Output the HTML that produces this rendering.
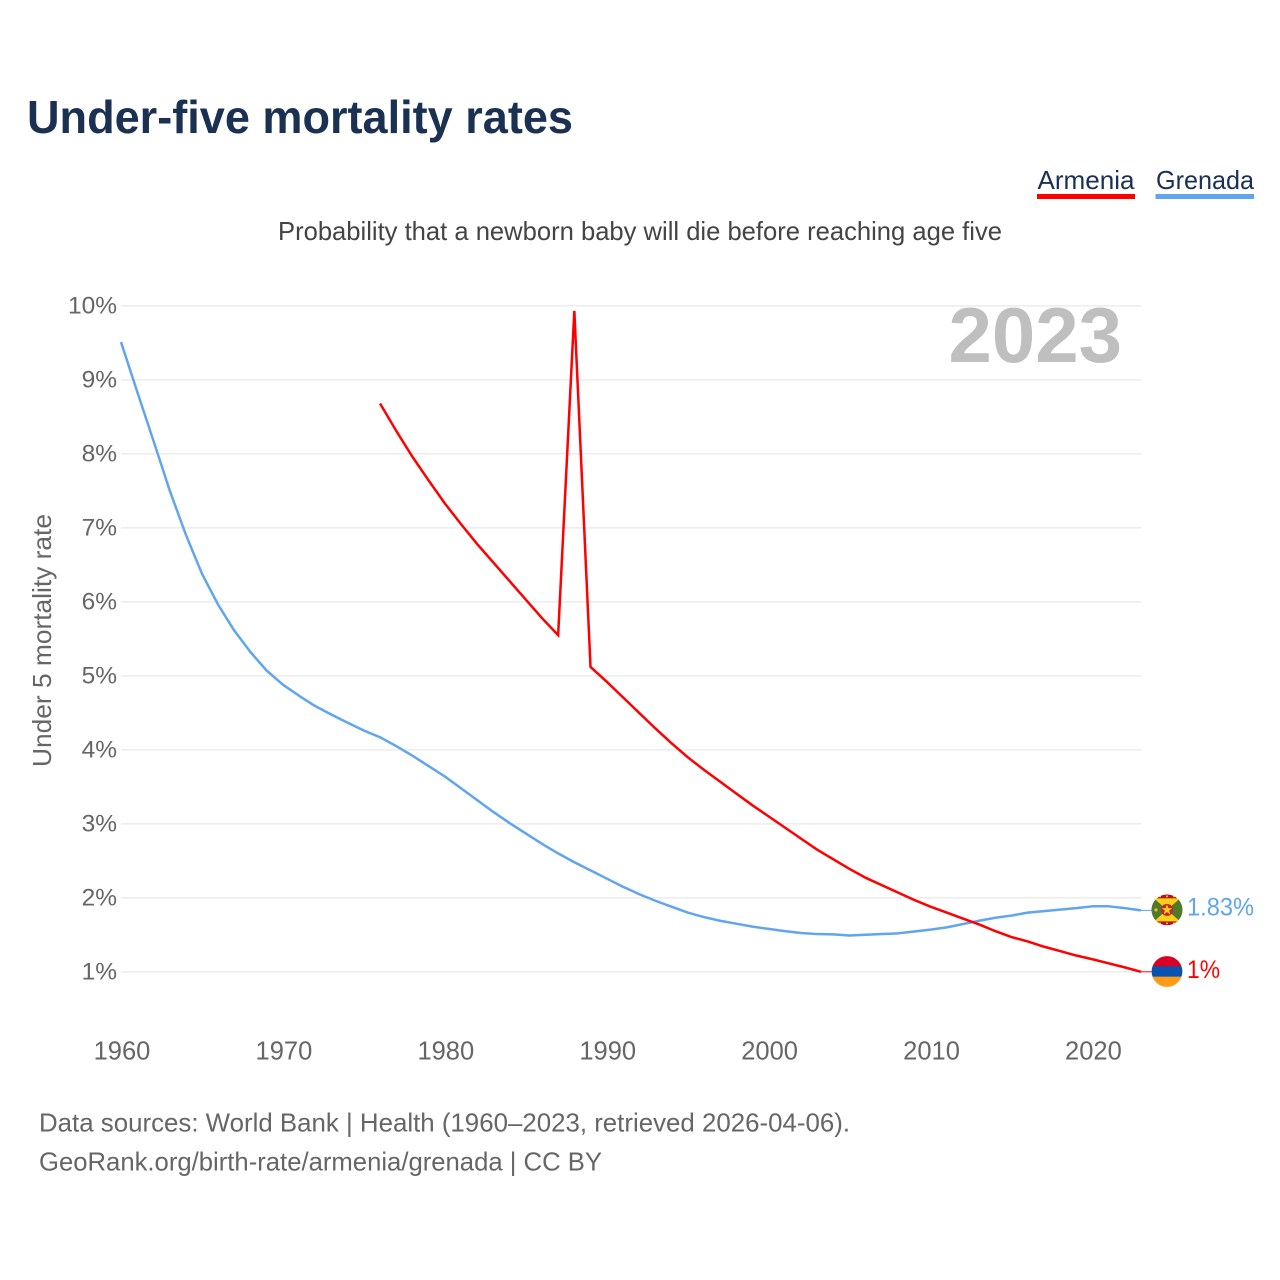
<!DOCTYPE html>
<html lang="en">
<head>
<meta charset="utf-8">
<title>Under-five mortality rates</title>
<style>
html,body{margin:0;padding:0;background:#fff;}
svg{display:block;font-family:"Liberation Sans",sans-serif;}
</style>
</head>
<body>
<svg id="chart" xmlns="http://www.w3.org/2000/svg" width="1280" height="1280" viewBox="0 0 1280 1280">
  <defs>
    <clipPath id="flag-clip"><circle cx="0" cy="0" r="15.4"></circle></clipPath>
  </defs>
  <rect x="0" y="0" width="1280" height="1280" fill="#ffffff"></rect>

  <text x="27" y="133" font-size="46" font-weight="700" fill="#1a3152" textLength="546" lengthAdjust="spacingAndGlyphs">Under-five mortality rates</text>

  <g>
    <g>
      <text x="1037.5" y="189" font-size="26" fill="#1a3152" textLength="97" lengthAdjust="spacingAndGlyphs">Armenia</text>
      <rect x="1037" y="194" width="98" height="5" fill="#ff0000"></rect>
    </g>
    <g>
      <text x="1156" y="189" font-size="26" fill="#1a3152" textLength="98" lengthAdjust="spacingAndGlyphs">Grenada</text>
      <rect x="1155.5" y="194" width="98.5" height="5" fill="#60a5ee"></rect>
    </g>
  </g>

  <text x="278" y="240" font-size="26" fill="#444444" textLength="724" lengthAdjust="spacingAndGlyphs">Probability that a newborn baby will die before reaching age five</text>

  <g id="grid"></g>
  <g id="y-ticks"></g>
  <g id="x-ticks"></g>

  <text transform="translate(51,767) rotate(-90)" x="0" y="0" font-size="26" fill="#666666" textLength="253" lengthAdjust="spacingAndGlyphs">Under 5 mortality rate</text>

  <text x="1122" y="362" font-size="78" font-weight="700" fill="#bfbfbf" text-anchor="end">2023</text>

  <g id="series"></g>

  <g id="flag-grenada">
    <g clip-path="url(#flag-clip)">
      <rect x="-16" y="-16" width="32" height="32" fill="#b5122b"></rect>
      <polygon points="-16,-11.5 16,-11.5 16,11.5 -16,11.5" fill="#4f7a2a"></polygon>
      <polygon points="-13,-11.5 13,-11.5 0,0" fill="#fcd116"></polygon>
      <polygon points="-13,11.5 13,11.5 0,0" fill="#fcd116"></polygon>
      <circle cx="0" cy="0" r="6" fill="#c8202c"></circle>
      <polygon points="0,-5.5 1.4,-1.7 5.2,-1.7 2.2,0.7 3.3,4.5 0,2.2 -3.3,4.5 -2.2,0.7 -5.2,-1.7 -1.4,-1.7" fill="#fcd116"></polygon>
      <circle cx="-11" cy="0" r="1.6" fill="#e6c020"></circle>
      <circle cx="-7" cy="-13.5" r="1" fill="#fcd116"></circle>
      <circle cx="0" cy="-13.5" r="1" fill="#fcd116"></circle>
      <circle cx="7" cy="-13.5" r="1" fill="#fcd116"></circle>
      <circle cx="-7" cy="13.5" r="1" fill="#fcd116"></circle>
      <circle cx="0" cy="13.5" r="1" fill="#fcd116"></circle>
      <circle cx="7" cy="13.5" r="1" fill="#fcd116"></circle>
    </g>
  </g>
  <g id="flag-armenia">
    <g clip-path="url(#flag-clip)">
      <rect x="-16" y="-16" width="32" height="11" fill="#d90026"></rect>
      <rect x="-16" y="-5.2" width="32" height="10.6" fill="#0a52b0"></rect>
      <rect x="-16" y="5.2" width="32" height="11" fill="#ff9a14"></rect>
    </g>
  </g>

  <text x="39" y="1131.3" font-size="26" fill="#666666" textLength="811" lengthAdjust="spacingAndGlyphs">Data sources: World Bank | Health (1960–2023, retrieved 2026-04-06).</text>
  <text x="39" y="1170.3" font-size="26" fill="#666666" textLength="563" lengthAdjust="spacingAndGlyphs">GeoRank.org/birth-rate/armenia/grenada | CC BY</text>
</svg>

<script>
const yTickValues = [1, 2, 3, 4, 5, 6, 7, 8, 9, 10];
const xTickYears = [1960, 1970, 1980, 1990, 2000, 2010, 2020];
const grenadaStartYear = 1960;
const grenadaValues = [
  9.51, 8.84, 8.18, 7.51, 6.91, 6.38, 5.96, 5.61, 5.32, 5.07,
  4.88, 4.73, 4.59, 4.475, 4.365, 4.26, 4.17, 4.05, 3.92, 3.78,
  3.64, 3.48, 3.32, 3.16, 3.01, 2.87, 2.73, 2.60, 2.48, 2.37,
  2.26, 2.15, 2.05, 1.96, 1.88, 1.80, 1.74, 1.69, 1.65, 1.61,
  1.58, 1.55, 1.525, 1.51, 1.505, 1.49, 1.50, 1.51, 1.52, 1.545,
  1.57, 1.60, 1.645, 1.69, 1.73, 1.76, 1.80, 1.82, 1.84, 1.86,
  1.885, 1.885, 1.86, 1.83
];
const armeniaStartYear = 1976;
const armeniaValues = [
  8.68, 8.31, 7.96, 7.64, 7.33, 7.05, 6.78, 6.53, 6.28, 6.03,
  5.78, 5.55, 9.93, 5.12, 4.92, 4.71, 4.50, 4.29, 4.09, 3.90,
  3.73, 3.57, 3.41, 3.25, 3.10, 2.95, 2.80, 2.65, 2.52, 2.39,
  2.27, 2.17, 2.07, 1.97, 1.88, 1.80, 1.72, 1.64, 1.55, 1.47,
  1.41, 1.34, 1.28, 1.22, 1.17, 1.115, 1.06, 1.00
];
const grenadaLabel = '1.83%';
const armeniaLabel = '1%';

const SVGNS = 'http://www.w3.org/2000/svg';
function xScale(year) { return 121 + (year - 1960) * (1141 - 121) / 63; }
function yScale(v) { return 971.8 - (v - 1) * 74; }
function make(tag, attrs, parent) {
  const el = document.createElementNS(SVGNS, tag);
  for (const k in attrs) el.setAttribute(k, attrs[k]);
  parent.appendChild(el);
  return el;
}

const gridGroup = document.getElementById('grid');
const yTickGroup = document.getElementById('y-ticks');
const xTickGroup = document.getElementById('x-ticks');
const seriesGroup = document.getElementById('series');

yTickValues.forEach(function (v) {
  const line = make('line', { x1: 121, x2: 1141.5, y1: yScale(v), y2: yScale(v), stroke: '#eeeeee', 'stroke-width': 1.6 }, gridGroup);
  
  
  const label = make('text', { x: 117, y: yScale(v) + 7.7, 'font-size': 24.5, fill: '#666666', 'text-anchor': 'end' }, yTickGroup);
  label.textContent = v + '%';
  
  
});

xTickYears.forEach(function (year) {
  const label = make('text', { x: xScale(year) + 1, y: 1059.3, 'font-size': 25.5, fill: '#666666', 'text-anchor': 'middle' }, xTickGroup);
  label.textContent = year;
  
  
});

function linePoints(values, startYear) {
  return values.map(function (v, i) {
    return xScale(startYear + i).toFixed(2) + ',' + yScale(v).toFixed(2);
  }).join(' ');
}

const lastYear = 2023;

const grenadaLine = make('polyline', { points: linePoints(grenadaValues, grenadaStartYear), fill: 'none', stroke: '#60a5ee', 'stroke-width': 2.5, 'stroke-linejoin': 'round' }, seriesGroup);



const armeniaLine = make('polyline', { points: linePoints(armeniaValues, armeniaStartYear), fill: 'none', stroke: '#ff0000', 'stroke-width': 2.5, 'stroke-linejoin': 'miter', 'stroke-miterlimit': 20 }, seriesGroup);



const grenadaEndY = yScale(grenadaValues[grenadaValues.length - 1]);
const armeniaEndY = yScale(armeniaValues[armeniaValues.length - 1]);

const grenadaLeader = make('line', { x1: xScale(lastYear), x2: 1152, y1: grenadaEndY, y2: grenadaEndY, stroke: '#60a5ee', 'stroke-width': 1 }, seriesGroup);



const armeniaLeader = make('line', { x1: xScale(lastYear), x2: 1152, y1: armeniaEndY, y2: armeniaEndY, stroke: '#ff0000', 'stroke-width': 1 }, seriesGroup);



document.getElementById('flag-grenada').setAttribute('transform', 'translate(1167,' + (grenadaEndY - 0.5) + ')');
document.getElementById('flag-armenia').setAttribute('transform', 'translate(1167,' + (armeniaEndY - 0.3) + ')');

const grenadaValueLabel = make('text', { x: 1187, y: grenadaEndY + 5, 'font-size': 25, fill: '#60a5ee', textLength: 67, lengthAdjust: 'spacingAndGlyphs' }, seriesGroup);
grenadaValueLabel.textContent = grenadaLabel;



const armeniaValueLabel = make('text', { x: 1187, y: armeniaEndY + 6, 'font-size': 25, fill: '#ff0000', textLength: 33, lengthAdjust: 'spacingAndGlyphs' }, seriesGroup);
armeniaValueLabel.textContent = armeniaLabel;


</script>
</body>
</html>
